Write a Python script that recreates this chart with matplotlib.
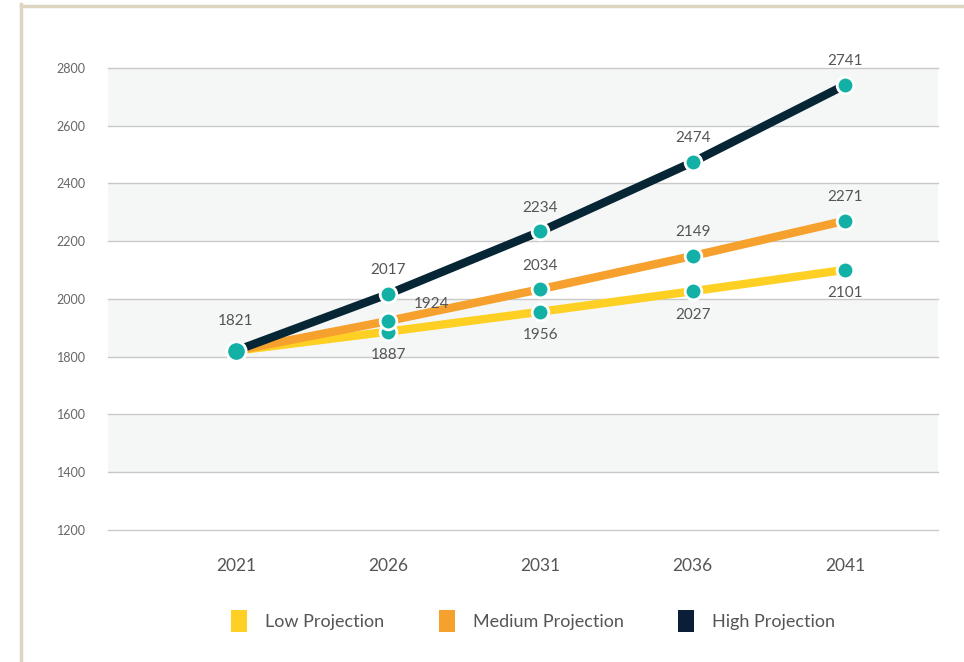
import matplotlib.pyplot as plt
from matplotlib.lines import Line2D
from matplotlib.patches import Patch

plt.rcParams['font.family'] = ['Lato', 'DejaVu Sans']

# projection data
years = [2021, 2026, 2031, 2036, 2041]
low = [1821, 1887, 1956, 2027, 2101]
medium = [1821, 1924, 2034, 2149, 2271]
high = [1821, 2017, 2234, 2474, 2741]
series_names = ['Low Projection', 'Medium Projection', 'High Projection']
y_ticks = [1200, 1400, 1600, 1800, 2000, 2200, 2400, 2600, 2800]

c_low = '#FDD023'
c_med = '#F6A02D'
c_high = '#062635'
c_dot = '#13B0A5'
c_text = '#555555'

fig = plt.figure(figsize=(9.64, 6.62), dpi=100)
ax = fig.add_axes([0.112, 0.1994, 0.861, 0.6979])

# alternating bands + gridlines
for i in range(len(y_ticks) - 1):
    if i % 2 == 1:
        ax.axhspan(y_ticks[i], y_ticks[i + 1], color='#F5F7F7', zorder=0, lw=0)
for t in y_ticks:
    ax.axhline(t, color='#C9C9C9', lw=1, zorder=1, clip_on=False)

for vals, col in [(low, c_low), (medium, c_med), (high, c_high)]:
    ax.plot(years, vals, color=col, lw=6, solid_capstyle='butt', zorder=3, clip_on=False)
for vals in (low, medium, high):
    ax.plot(years[1:], vals[1:], 'o', ms=12, color=c_dot, mec='white', mew=2,
            zorder=5, clip_on=False)
ax.plot(years[0], high[0], 'o', ms=14, color=c_dot, mec='white', mew=2,
        zorder=5, clip_on=False)

lbl = dict(textcoords='offset points', ha='center', fontsize=11, color=c_text)
ax.annotate(f'{high[0]}', (years[0], high[0]), xytext=(0, 16), va='bottom', **lbl)
for x, v in zip(years[1:], high[1:]):
    ax.annotate(f'{v}', (x, v), xytext=(0, 12), va='bottom', **lbl)
for i, (x, v) in enumerate(zip(years[1:], medium[1:])):
    if i == 0:
        # squeezed between the high and medium lines
        ax.annotate(f'{v}', (x, v), xytext=(31, 12), va='center', **lbl)
    else:
        ax.annotate(f'{v}', (x, v), xytext=(0, 12), va='bottom', **lbl)
for x, v in zip(years[1:], low[1:]):
    ax.annotate(f'{v}', (x, v), xytext=(0, -12), va='top', **lbl)

ax.set_xlim(2016.8, 2044.05)
ax.set_ylim(1200, 2800)
ax.set_xticks(years)
ax.set_xticklabels([str(y) for y in years], fontsize=12.5, color=c_text)
ax.set_yticks(y_ticks)
ax.set_yticklabels([str(t) for t in y_ticks], fontsize=9, color='#666666')
ax.tick_params(axis='x', length=0, pad=20)
ax.tick_params(axis='y', length=0, pad=16)
for s in ax.spines.values():
    s.set_visible(False)

handles = [Patch(facecolor=c, edgecolor='none') for c in (c_low, c_med, '#0A1E37')]
fig.legend(handles, series_names, loc='center', bbox_to_anchor=(0.553, 0.062),
           ncol=3, frameon=False, fontsize=13, handlelength=0.9, handleheight=1.5,
           handletextpad=1.0, columnspacing=3.0, labelcolor=c_text)

# beige frame along top and left edges
frame = '#DDD5C0'
fig.add_artist(Line2D([0.0218, 1.0], [0.9915, 0.9915], color=frame, lw=2.5,
                      transform=fig.transFigure))
fig.add_artist(Line2D([0.0218, 0.0218], [0.0, 0.9935], color=frame, lw=2.5,
                      transform=fig.transFigure))

fig.savefig('out.png', dpi=100)
